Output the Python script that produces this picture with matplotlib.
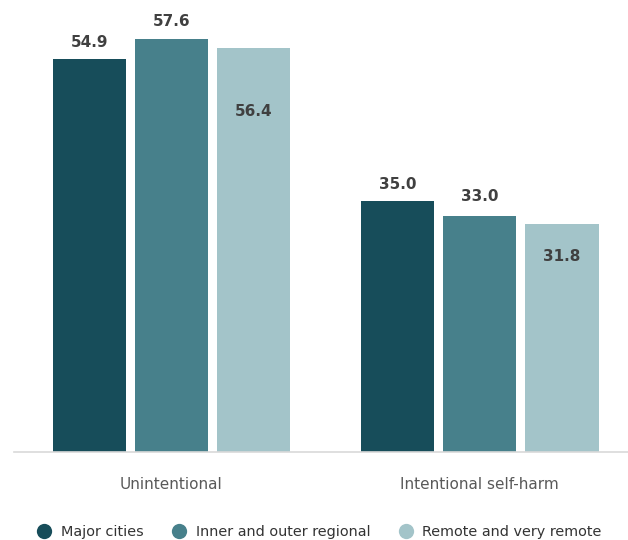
import matplotlib.pyplot as plt
import numpy as np
from matplotlib.lines import Line2D

# data
categories = ["Unintentional", "Intentional self-harm"]
series = ["Major cities", "Inner and outer regional", "Remote and very remote"]
values = {
    "Major cities": [54.9, 35.0],
    "Inner and outer regional": [57.6, 33.0],
    "Remote and very remote": [56.4, 31.8],
}
colors = ["#174D5A", "#47808B", "#A3C4C9"]
# label offset in points from bar top (positive = above, negative = inside)
label_offsets = {
    "Major cities": [12, 12],
    "Inner and outer regional": [13, 14],
    "Remote and very remote": [-46, -23],
}

fig = plt.figure(figsize=(6.28, 5.4), dpi=100)
ax = fig.add_axes([0.022, 0.163, 0.978, 0.837])

x = np.arange(len(categories))
step = 0.266
width = 0.237
for i, s in enumerate(series):
    pos = x + (i - 1) * step
    bars = ax.bar(pos, values[s], width=width, color=colors[i], edgecolor="none")
    for b, v, off in zip(bars, values[s], label_offsets[s]):
        ax.annotate(f"{v:.1f}", (b.get_x() + b.get_width() / 2, v),
                    xytext=(0, off), textcoords="offset points",
                    ha="center", va="center", fontsize=11, fontweight="bold",
                    color="#404040")

ax.set_xlim(-0.51, 1.48)
ax.set_ylim(0, 63.1)
ax.set_yticks([])
ax.set_xticks(x)
ax.set_xticklabels(categories, fontsize=11, color="#595959")
ax.tick_params(axis="x", length=0, pad=18)
for sp in ["top", "right", "left"]:
    ax.spines[sp].set_visible(False)
ax.spines["bottom"].set_color("#D9D9D9")
ax.spines["bottom"].set_linewidth(1.2)

handles = [Line2D([], [], marker="o", linestyle="none", markersize=11,
                  markerfacecolor=c, markeredgecolor="none") for c in colors]
fig.legend(handles, series, loc="center", bbox_to_anchor=(0.503, 0.014),
           ncol=3, frameon=False, fontsize=10.4, handletextpad=0.15,
           columnspacing=1.45, labelcolor="#333333")

fig.savefig("out.png", dpi=100)
